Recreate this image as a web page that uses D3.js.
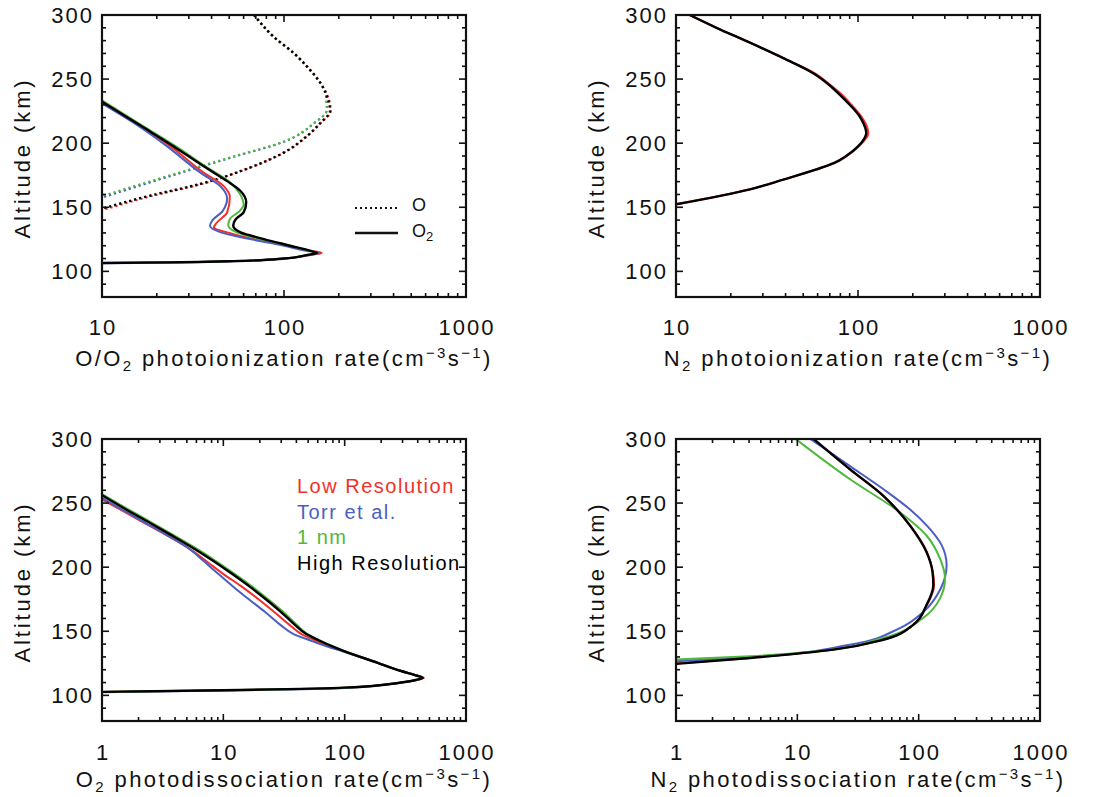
<!DOCTYPE html>
<html><head><meta charset="utf-8">
<script src="https://cdn.jsdelivr.net/npm/d3@7"></script>
<style>
body{margin:0;background:#fff;}
svg{display:block;}
text{font-family:"Liberation Sans",Arial,sans-serif;fill:#111;}
</style></head><body>
<svg id="c" width="1100" height="797"></svg>
<script>
// ---------- data: [rate, altitude km] ----------
// Panel 1: O2 photoionization (solid)
const o2IonLow  = [[10,106.5],[22.8,107],[53,108],[100,110],[138,112.6],[161,114.4],[140,116],[104,120],[68.4,125.2],[48.7,130.4],[41.2,134.2],[42.8,138.1],[48.7,146],[50.4,158],[46.6,166.5],[36.2,177],[23.8,197.5],[16.3,213],[10,231]];
const o2IonTorr = [[10,106.3],[22.8,106.8],[53,107.8],[100,110],[134,112.6],[155,114.4],[132,116],[100,120],[65,125.2],[45,130.4],[39.2,135.5],[40.5,140],[46,147],[48.7,157],[45,166],[34.7,177],[22.8,197.5],[16,213],[10,231]];
const o2Ion1nm  = [[10,106.5],[22.8,107],[53,108],[100,110],[132,112.6],[152,114.4],[136,116.2],[108,120],[75,125],[55,130.4],[49.4,136],[50.5,141],[57,147],[60,152],[57,161],[50,170],[37,182],[25.5,197.5],[17,213],[10,233.5]];
const o2IonHigh = [[10,106.5],[22.8,107],[53,108],[100,110],[132,112.6],[152,114.4],[138,116.2],[108,120],[77.5,125.2],[57.7,130.4],[52.6,135.5],[54.3,140.7],[60,146],[62,154],[57.7,162.7],[48.7,170.4],[36.2,182],[24.8,197.5],[16.6,213],[10,232.4]];
// Panel 1: O photoionization (dotted)
const oIonLow  = [[10,147.6],[18.5,158.5],[34.7,167.8],[65.6,181],[100,192.5],[134,205.5],[160,216],[181,225],[171,239.3],[160,246.6],[135,259.6],[114,270],[88.5,282.8],[68.8,300]];
const oIonTorr = [[10,157.5],[22.8,173.5],[53,189.3],[100,201],[146,215.4],[172,226],[169,239.3],[159,246.6],[134,259.6],[113.6,270],[88,282.8],[68.4,300]];
const oIon1nm  = [[10,158.8],[22.8,174.3],[53,189.8],[100,201.4],[146,215.6],[172,226],[169,239.3],[159,246.6],[134,259.6],[113.6,270],[88,282.8],[68.4,300]];
const oIonHigh = [[10,148.9],[18.5,159.2],[34.7,168.2],[65.6,181.2],[100,192.8],[134,205.7],[159,216],[179,225],[169,239.3],[159,246.6],[134,259.6],[113.6,270],[88,282.8],[68.4,300]];
// Panel 2: N2 photoionization
const n2IonLow  = [[10,152.3],[25.5,164],[38.9,171.6],[59,179.5],[75,184.6],[87,190],[101,197.5],[114,208],[110,215.6],[104,221],[92,230],[80,238.9],[71,245],[58,254.4],[38.9,266.3],[25.5,278.4],[16.7,290],[11.9,300]];
const n2IonHigh = [[10,152.3],[25.5,164],[38.9,171.6],[59,179.5],[74,184.6],[86,190],[100,197.5],[111,208],[107,215.6],[102,221],[90,230],[78,238.9],[70,245],[57,254.4],[38.9,266.3],[25.5,278.4],[16.7,290],[11.9,300]];
// Panel 3: O2 photodissociation
const o2DisLow  = [[1,102.7],[10,104],[100,106],[292,110],[400,112.2],[450,113.7],[400,115.3],[292,119],[187,125.4],[100,134.4],[76,138],[57,143],[43.7,148],[35.1,155],[26.3,165],[19.5,175],[14.1,185],[9.89,195],[7.16,205],[5.13,215],[3.39,225],[2.19,235],[1.41,245],[1,253]];
const o2DisTorr = [[1,102.5],[10,103.8],[100,105.8],[292,110],[395,112.2],[440,113.7],[395,115.3],[292,119],[185,125.4],[95.5,134.4],[72,138],[51.5,143],[37.6,148],[29.5,155],[22.1,165],[16.2,175],[12,185],[9.02,195],[6.84,205],[5.13,215],[3.43,225],[2.24,235],[1.46,245],[1,254]];
const o2Dis1nm  = [[1,102.7],[10,104],[100,106],[292,110],[395,112.2],[441,113.7],[395,115.3],[292,119],[187,125.4],[100,134.4],[81,138],[61.5,143],[49,148],[40.3,155],[31.3,165],[23.4,175],[17.2,185],[12.3,195],[8.61,205],[5.89,215],[3.89,225],[2.54,235],[1.66,245],[1,257]];
const o2DisHigh = [[1,102.7],[10,104],[100,106],[292,110],[395,112.2],[441,113.7],[395,115.3],[292,119],[187,125.4],[100,134.4],[80,138],[61,143],[47.9,148],[38.9,155],[29.9,165],[22.4,175],[16.4,185],[11.7,195],[8.22,205],[5.62,215],[3.72,225],[2.43,235],[1.58,245],[1,256.2]];
// Panel 4: N2 photodissociation
const n2DisLow  = [[1,124.8],[4.07,129.2],[19.8,135.7],[51,143.4],[90,155],[117,170.5],[134,186],[131,196.3],[117,211.8],[85,232.5],[51.1,255.7],[27.2,276.3],[13.5,300.3]];
const n2DisTorr = [[1,126.7],[4.07,129.8],[27,139.5],[70,152.5],[110,165.4],[152,183.4],[170,201.5],[155,217],[118,232],[85,245],[51,261],[27,279],[12.7,300.3]];
const n2Dis1nm  = [[1,128],[4.07,130.5],[14.4,134.4],[51,144.7],[108,160.2],[150,175.7],[165,191.2],[150,206.6],[116,224.7],[70,242.8],[27.2,268.6],[9.6,300.3]];
const n2DisHigh = [[1,124.6],[4.07,129.2],[19.8,135.7],[51,143.4],[90,155],[116,170.5],[132,186],[130,196.3],[116,211.8],[84.8,232.5],[51.1,255.7],[27.2,276.3],[13.5,300.3]];

const altTicks = [100,150,200,250,300];
const labelsLow = ["Low Resolution","Torr et al.","1 nm","High Resolution"];
const colors = {low:"#f2302a", torr:"#4a5ec4", nm:"#4fb83c", high:"#000000"};

// ---------- layout ----------
const svg = d3.select("#c");
const W = 364, H = 282;
const panels = [
  {x:102, y:15, xdom:[10,1000], xticks:[10,100,1000], tickY:335, titleY:366,
   title:[["O/O",0],["2",1],[" photoionization rate(cm",0],["\u22123",2],["s",0],["\u22121",2],[")",0]],
   series:[
     {d:oIonLow,c:colors.low,dot:true},{d:oIonTorr,c:colors.torr,dot:true},{d:oIon1nm,c:colors.nm,dot:true},{d:oIonHigh,c:colors.high,dot:true},
     {d:o2IonLow,c:colors.low},{d:o2IonTorr,c:colors.torr},{d:o2Ion1nm,c:colors.nm},{d:o2IonHigh,c:colors.high}]},
  {x:676, y:15, xdom:[10,1000], xticks:[10,100,1000], tickY:335, titleY:366,
   title:[["N",0],["2",1],[" photoionization rate(cm",0],["\u22123",2],["s",0],["\u22121",2],[")",0]],
   series:[{d:n2IonLow,c:colors.low},{d:n2IonHigh,c:colors.high}]},
  {x:102, y:439, xdom:[1,1000], xticks:[1,10,100,1000], tickY:760, titleY:787,
   title:[["O",0],["2",1],[" photodissociation rate(cm",0],["\u22123",2],["s",0],["\u22121",2],[")",0]],
   series:[{d:o2DisLow,c:colors.low},{d:o2DisTorr,c:colors.torr},{d:o2Dis1nm,c:colors.nm},{d:o2DisHigh,c:colors.high}]},
  {x:676, y:439, xdom:[1,1000], xticks:[1,10,100,1000], tickY:760, titleY:787,
   title:[["N",0],["2",1],[" photodissociation rate(cm",0],["\u22123",2],["s",0],["\u22121",2],[")",0]],
   series:[{d:n2DisLow,c:colors.low},{d:n2DisTorr,c:colors.torr},{d:n2Dis1nm,c:colors.nm},{d:n2DisHigh,c:colors.high}]}
];

panels.forEach((p,i)=>{
  const g = svg.append("g").attr("transform",`translate(${p.x},${p.y})`);
  const x = d3.scaleLog().domain(p.xdom).range([0,W]);
  const y = d3.scaleLinear().domain([80,300]).range([H,0]);
  const cid = "clip"+i;
  g.append("clipPath").attr("id",cid).append("rect").attr("width",W).attr("height",H);
  const line = d3.line().x(d=>x(d[0])).y(d=>y(d[1])).curve(d3.curveMonotoneY);
  const lg = g.append("g").attr("clip-path",`url(#${cid})`);
  p.series.forEach(s=>{
    const pts = s.d.slice().sort((a,b)=>b[1]-a[1]);
    lg.append("path").attr("d",line(pts)).attr("fill","none").attr("stroke",s.c)
      .attr("stroke-width", s.c==="#000000"?2.4:2)
      .attr("stroke-dasharray", s.dot?"2.2,3":null)
      .attr("stroke-linejoin","round");
  });
  // ticks (inward, all four sides)
  const tk = g.append("g").attr("stroke","#111").attr("stroke-width",1.6);
  altTicks.forEach(v=>{
    tk.append("line").attr("x1",0).attr("x2",7).attr("y1",y(v)).attr("y2",y(v));
    tk.append("line").attr("x1",W).attr("x2",W-7).attr("y1",y(v)).attr("y2",y(v));
  });
  for(let v=80; v<=300; v+=10){ if(v%50===0) continue;
    tk.append("line").attr("x1",0).attr("x2",4).attr("y1",y(v)).attr("y2",y(v));
    tk.append("line").attr("x1",W).attr("x2",W-4).attr("y1",y(v)).attr("y2",y(v));
  }
  p.xticks.forEach(v=>{
    tk.append("line").attr("x1",x(v)).attr("x2",x(v)).attr("y1",H).attr("y2",H-7);
    tk.append("line").attr("x1",x(v)).attr("x2",x(v)).attr("y1",0).attr("y2",7);
  });
  for(let dcd=p.xdom[0]; dcd<p.xdom[1]; dcd*=10){
    for(let k=2;k<=9;k++){ const v=dcd*k;
      tk.append("line").attr("x1",x(v)).attr("x2",x(v)).attr("y1",H).attr("y2",H-4);
      tk.append("line").attr("x1",x(v)).attr("x2",x(v)).attr("y1",0).attr("y2",4);
    }
  }
  g.append("rect").attr("width",W).attr("height",H).attr("fill","none").attr("stroke","#111").attr("stroke-width",2.2);
  // tick labels
  altTicks.forEach(v=>{
    g.append("text").attr("x",-8).attr("y",y(v)).attr("dy","0.36em").attr("text-anchor","end")
      .attr("font-size",22).attr("letter-spacing",2).text(v);
  });
  p.xticks.forEach(v=>{
    g.append("text").attr("x",x(v)+1).attr("y",p.tickY-p.y).attr("text-anchor","middle")
      .attr("font-size",22).attr("letter-spacing",2).text(v);
  });
  // y title
  g.append("text").attr("transform",`translate(-72,${H/2+2}) rotate(-90)`).attr("text-anchor","middle")
    .attr("font-size",22).attr("letter-spacing",2.9).text("Altitude (km)");
  // x title
  const t = g.append("text").attr("x",W/2).attr("y",p.titleY-p.y).attr("text-anchor","middle")
    .attr("font-size",22).attr("letter-spacing",2.4);
  let shift=0;
  p.title.forEach(([s,k])=>{
    const target = k===1?5:(k===2?-8:0);
    const ts = t.append("tspan").text(s).attr("dy",target-shift);
    if(k>0) ts.attr("font-size",15);
    shift=target;
  });
  // legends
  if(i===0){
    g.append("line").attr("x1",253).attr("x2",296).attr("y1",193).attr("y2",193)
      .attr("stroke","#111").attr("stroke-width",2).attr("stroke-dasharray","2,3");
    g.append("text").attr("x",310).attr("y",196).attr("font-size",18).text("O");
    g.append("line").attr("x1",253).attr("x2",296).attr("y1",218).attr("y2",218)
      .attr("stroke","#111").attr("stroke-width",2.4);
    const t2 = g.append("text").attr("x",310).attr("y",222).attr("font-size",18);
    t2.append("tspan").text("O");
    t2.append("tspan").text("2").attr("font-size",13).attr("dy",4);
  }
  if(i===2){
    const lc=[colors.low,colors.torr,colors.nm,colors.high];
    labelsLow.forEach((s,j)=>{
      g.append("text").attr("x",195).attr("y",54+j*25.5).attr("font-size",20)
        .attr("letter-spacing",1.5).style("fill",lc[j]).text(s);
    });
  }
});
</script>
</body></html>
